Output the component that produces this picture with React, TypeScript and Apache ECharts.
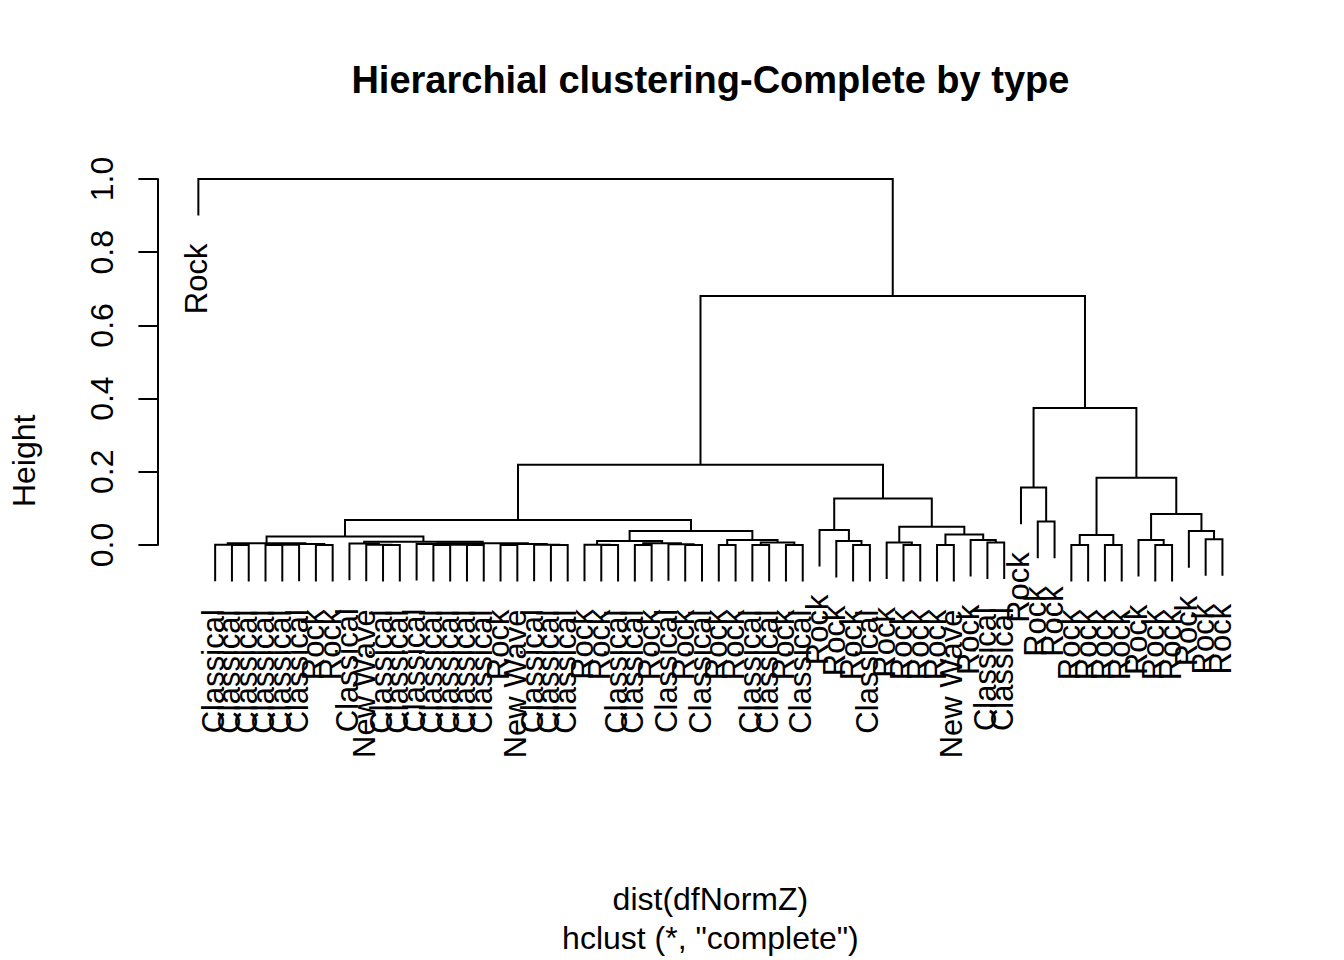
import React, { useEffect, useRef } from "react";
import * as echarts from "echarts";

// Leaf labels in the order they are drawn (left to right)
const leafLabels: string[] = [
  "Rock",
  "Classical", "Classical", "Classical", "Classical", "Classical", "Classical",
  "Rock", "Rock",
  "Classical", "New Wave",
  "Classical", "Classical", "Classical", "Classical", "Classical", "Classical", "Classical",
  "Rock", "New Wave",
  "Classical", "Classical", "Classical",
  "Rock", "Rock",
  "Classical", "Classical", "Rock", "Classical", "Rock", "Classical",
  "Rock", "Rock", "Classical", "Classical", "Rock", "Classical",
  "Rock", "Rock", "Rock", "Classical",
  "Rock", "Rock", "Rock", "Rock",
  "New Wave", "Rock", "Classical", "Classical",
  "Rock", "Rock", "Rock", "Rock", "Rock", "Rock", "Rock", "Rock", "Rock", "Rock", "Rock", "Rock", "Rock",
];

// hclust-style merge table: negative = leaf (1-based position), positive = earlier merge step
const mergeLeft: number[] = [
  -3, -2, -5, 3, -8, 4, 2, -12, -11, -10,
  -15, -17, 11, -14, -19, -22, -21, 15, 14, 10,
  7, -25, -24, -27, -30, -29, 24, 23, -32, -34,
  -36, 30, 29, 28, 21, -40, -39, -38, -43, -42,
  -45, -48, -47, 41, 40, 38, 35, -51, -50, -53,
  -55, 50, -58, -57, -61, -60, 54, 52, 49, 47, -1,
];
const mergeRight: number[] = [
  -4, 1, -6, -7, -9, 5, 6, -13, 8, 9,
  -16, -18, 12, 13, -20, -23, 16, 17, 18, 19,
  20, -26, 22, -28, -31, 25, 26, 27, -33, -35,
  -37, 31, 32, 33, 34, -41, 36, 37, -44, 39,
  -46, -49, 42, 43, 44, 45, 46, -52, 48, -54,
  -56, 51, -59, 53, -62, 55, 56, 57, 58, 59, 60,
];
const mergeHeight: number[] = [
  0.000, 0.001, 0.000, 0.001, 0.000, 0.003, 0.005, 0.000, 0.001, 0.004,
  0.000, 0.000, 0.001, 0.003, 0.000, 0.000, 0.001, 0.003, 0.005, 0.009,
  0.023, 0.000, 0.001, 0.000, 0.000, 0.002, 0.005, 0.011, 0.000, 0.000,
  0.000, 0.007, 0.014, 0.038, 0.068, 0.000, 0.011, 0.041, 0.000, 0.007,
  0.000, 0.007, 0.014, 0.029, 0.050, 0.127, 0.219, 0.064, 0.157, 0.000,
  0.000, 0.027, 0.000, 0.014, 0.016, 0.038, 0.085, 0.184, 0.374, 0.680, 1.000,
];

const yTicks: number[] = [0, 0.2, 0.4, 0.6, 0.8, 1.0];
const titleText = "Hierarchial clustering-Complete by type";
const xAxisTitle = "dist(dfNormZ)";
const subTitle = 'hclust (*, "complete")';
const yAxisTitle = "Height";

const FONT = "'Liberation Sans', Arial, Helvetica, sans-serif";

export default function App() {
  const ref = useRef<HTMLDivElement>(null);

  useEffect(() => {
    if (!ref.current) return;
    const chart = echarts.init(ref.current, null, { renderer: "svg" });

    const n = leafLabels.length;
    const nodeX: number[] = [];
    const childX = (c: number) => (c < 0 ? -c : nodeX[c - 1]);
    for (let i = 0; i < mergeHeight.length; i++) {
      nodeX[i] = (childX(mergeLeft[i]) + childX(mergeRight[i])) / 2;
    }
    const maxH = Math.max(...mergeHeight);
    const minH = Math.min(...mergeHeight);
    const hang = 0.1 * (maxH - minH);

    const links: number[][] = [];
    const leaves: number[][] = [];
    for (let i = 0; i < mergeHeight.length; i++) {
      const h = mergeHeight[i];
      const a = mergeLeft[i];
      const b = mergeRight[i];
      const ya = a < 0 ? h - hang : mergeHeight[a - 1];
      const yb = b < 0 ? h - hang : mergeHeight[b - 1];
      links.push([childX(a), ya, childX(b), yb, h]);
      if (a < 0) leaves.push([-a, h - hang, -a - 1]);
      if (b < 0) leaves.push([-b, h - hang, -b - 1]);
    }

    const xPad = 0.04 * (n - 1);

    const option: any = {
      animation: false,
      backgroundColor: "#ffffff",
      grid: { left: 157.4, right: 80.6, top: 179, bottom: 415, containLabel: false },
      xAxis: {
        type: "value",
        min: 1 - xPad,
        max: n + xPad,
        show: false,
      },
      yAxis: {
        type: "value",
        min: yTicks[0],
        max: yTicks[yTicks.length - 1],
        interval: 0.2,
        axisLine: { show: true, onZero: false, lineStyle: { color: "#000", width: 2 } },
        axisTick: { show: true, length: 19, lineStyle: { color: "#000", width: 2 } },
        splitLine: { show: false },
        axisLabel: {
          show: true,
          rotate: 90,
          margin: 39,
          fontSize: 32,
          fontFamily: FONT,
          color: "#000",
          formatter: (v: number) => v.toFixed(1),
        },
      },
      graphic: [
        {
          type: "text",
          x: 710.4,
          y: 80,
          style: {
            text: titleText,
            font: `bold 38px ${FONT}`,
            fill: "#000",
            align: "center",
            verticalAlign: "middle",
            textAlign: "center",
            textVerticalAlign: "middle",
          },
        },
        {
          type: "text",
          x: 710.4,
          y: 899,
          style: {
            text: xAxisTitle,
            font: `32px ${FONT}`,
            fill: "#000",
            align: "center",
            verticalAlign: "middle",
            textAlign: "center",
            textVerticalAlign: "middle",
          },
        },
        {
          type: "text",
          x: 710.4,
          y: 937.5,
          style: {
            text: subTitle,
            font: `32px ${FONT}`,
            fill: "#000",
            align: "center",
            verticalAlign: "middle",
            textAlign: "center",
            textVerticalAlign: "middle",
          },
        },
        {
          type: "text",
          x: 24,
          y: 460.8,
          rotation: Math.PI / 2,
          style: {
            text: yAxisTitle,
            font: `32px ${FONT}`,
            fill: "#000",
            align: "center",
            verticalAlign: "middle",
            textAlign: "center",
            textVerticalAlign: "middle",
          },
        },
      ],
      series: [
        {
          type: "custom",
          name: "links",
          clip: false,
          data: links,
          encode: { x: [0, 2], y: [1, 3, 4] },
          renderItem: (_params: any, api: any) => {
            const p1 = api.coord([api.value(0), api.value(1)]);
            const p2 = api.coord([api.value(0), api.value(4)]);
            const p3 = api.coord([api.value(2), api.value(4)]);
            const p4 = api.coord([api.value(2), api.value(3)]);
            return {
              type: "polyline",
              shape: { points: [p1, p2, p3, p4] },
              style: { stroke: "#000", lineWidth: 2, fill: null },
            };
          },
        },
        {
          type: "custom",
          name: "labels",
          clip: false,
          data: leaves,
          encode: { x: 0, y: 1 },
          renderItem: (_params: any, api: any) => {
            const p = api.coord([api.value(0), api.value(1)]);
            const label = leafLabels[api.value(2)];
            return {
              type: "text",
              x: p[0] - 2,
              y: p[1] + 28,
              rotation: Math.PI / 2,
              style: {
                text: label,
                font: `31px ${FONT}`,
                fill: "#000",
                align: "right",
                verticalAlign: "middle",
                textAlign: "right",
                textVerticalAlign: "middle",
              },
            };
          },
        },
      ],
    };

    chart.setOption(option);
    return () => chart.dispose();
  }, []);

  return (
    <div
      ref={ref}
      style={{ position: "fixed", left: 0, top: 0, width: 1344, height: 960, background: "#fff" }}
    />
  );
}
